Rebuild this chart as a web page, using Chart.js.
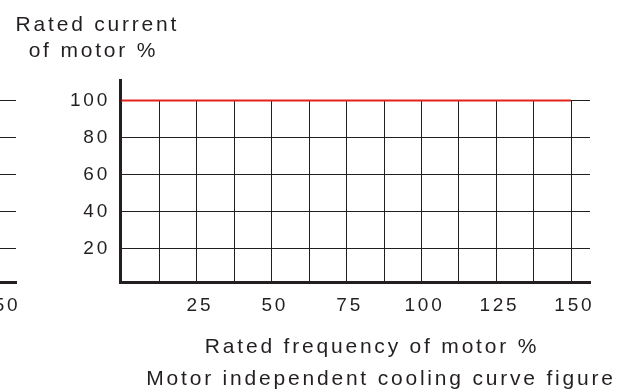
<!DOCTYPE html>
<html>
<head>
<meta charset="utf-8">
<script src="https://cdn.jsdelivr.net/npm/chart.js@4.4.1/dist/chart.umd.min.js"></script>
<style>
html, body { margin: 0; padding: 0; background: #ffffff; overflow: hidden; }
body { width: 622px; height: 392px; position: relative; }
.wrap { position: absolute; top: 0; width: 622px; height: 392px; }
canvas { display: block; }
</style>
</head>
<body>
<div class="wrap" style="left:-574px"><canvas id="frag" width="622" height="392"></canvas></div>
<div class="wrap" style="left:0"><canvas id="main" width="622" height="392"></canvas></div>
<script>
// ---- data ----
const frequency = [0, 150];            // % of rated motor frequency
const ratedCurrent = [100, 100];       // % of rated motor current
const xGridValues = [12.5, 25, 37.5, 50, 62.5, 75, 87.5, 100, 112.5, 125, 137.5, 150];
const xTickLabels = [25, 50, 75, 100, 125, 150];
const yTickLabels = [20, 40, 60, 80, 100];
const yAxisTitle = ['Rated current', 'of motor %'];
const xAxisTitle = ['Rated frequency of motor %', 'Motor independent cooling curve figure'];

const INK = '#231f20';
const RED = '#e4231b';
const FONT = '"Liberation Sans", Arial, Helvetica, sans-serif';

const spacingPlugin = {
  id: 'spacing',
  beforeUpdate(chart) { chart.ctx.letterSpacing = '2.8px'; },
  beforeDraw(chart) { chart.ctx.letterSpacing = '2.8px'; }
};

const vGridPlugin = {
  id: 'vgrid',
  beforeDatasetsDraw(chart) {
    const xs = chart.scales.x, ys = chart.scales.y, ctx = chart.ctx;
    const top = Math.round(ys.getPixelForValue(Math.max(...yTickLabels)));
    ctx.save();
    ctx.strokeStyle = INK;
    ctx.lineWidth = 1;
    ctx.beginPath();
    xs.ticks.forEach(t => {
      const px = Math.round(xs.getPixelForValue(t.value)) + 0.5;
      ctx.moveTo(px, top);
      ctx.lineTo(px, ys.bottom);
    });
    ctx.stroke();
    ctx.restore();
  }
};

const textPlugin = {
  id: 'texts',
  afterDraw(chart) {
    const { ctx, chartArea } = chart;
    ctx.save();
    ctx.fillStyle = INK;
    ctx.font = '21px ' + FONT;
    ctx.letterSpacing = '2.8px';
    ctx.textAlign = 'center';
    ctx.textBaseline = 'alphabetic';
    ctx.fillText(yAxisTitle[0], chartArea.left - 22.6, chartArea.top - 49);
    ctx.fillText(yAxisTitle[1], chartArea.left - 26.6, chartArea.top - 23);
    ctx.fillText(xAxisTitle[0], chartArea.left + 252, chartArea.bottom + 71);
    ctx.fillText(xAxisTitle[1], chartArea.left + 261, chartArea.bottom + 103);
    ctx.restore();
  }
};

function build(canvas, withTitles) {
  const plugins = [spacingPlugin, vGridPlugin];
  if (withTitles) plugins.push(textPlugin);
  return new Chart(canvas, {
    type: 'line',
    data: {
      datasets: [{
        data: frequency.map((f, i) => ({ x: f, y: ratedCurrent[i] })),
        borderColor: RED,
        borderWidth: 2,
        pointRadius: 0,
        fill: false,
        tension: 0
      }]
    },
    options: {
      responsive: false,
      animation: false,
      devicePixelRatio: 1,
      layout: { padding: { top: 80, right: 32, left: 0, bottom: 0 } },
      plugins: {
        legend: { display: false },
        tooltip: { enabled: false },
        title: { display: false }
      },
      scales: {
        x: {
          type: 'linear',
          min: -0.5,
          max: 156.4,
          afterBuildTicks: s => { s.ticks = xGridValues.map(v => ({ value: v })); },
          afterFit: s => { s.height = 110; },
          grid: { display: true, drawOnChartArea: false, drawTicks: false },
          border: { display: true, color: INK, width: 3 },
          ticks: {
            autoSkip: false,
            maxRotation: 0,
            padding: 12,
            labelOffset: 3.5,
            color: INK,
            font: { family: FONT, size: 19 },
            callback: v => xTickLabels.includes(v) ? String(v) : ''
          }
        },
        y: {
          type: 'linear',
          min: 2,
          max: 111,
          afterBuildTicks: s => { s.ticks = yTickLabels.map(v => ({ value: v })); },
          afterFit: s => { s.width = 120; },
          grid: { color: INK, lineWidth: 1, drawTicks: false },
          border: { display: true, color: INK, width: 3 },
          ticks: {
            padding: 10,
            color: INK,
            font: { family: FONT, size: 19 },
            callback: v => String(v)
          }
        }
      }
    },
    plugins: plugins
  });
}

build(document.getElementById('frag'), false);
build(document.getElementById('main'), true);
</script>
</body>
</html>
